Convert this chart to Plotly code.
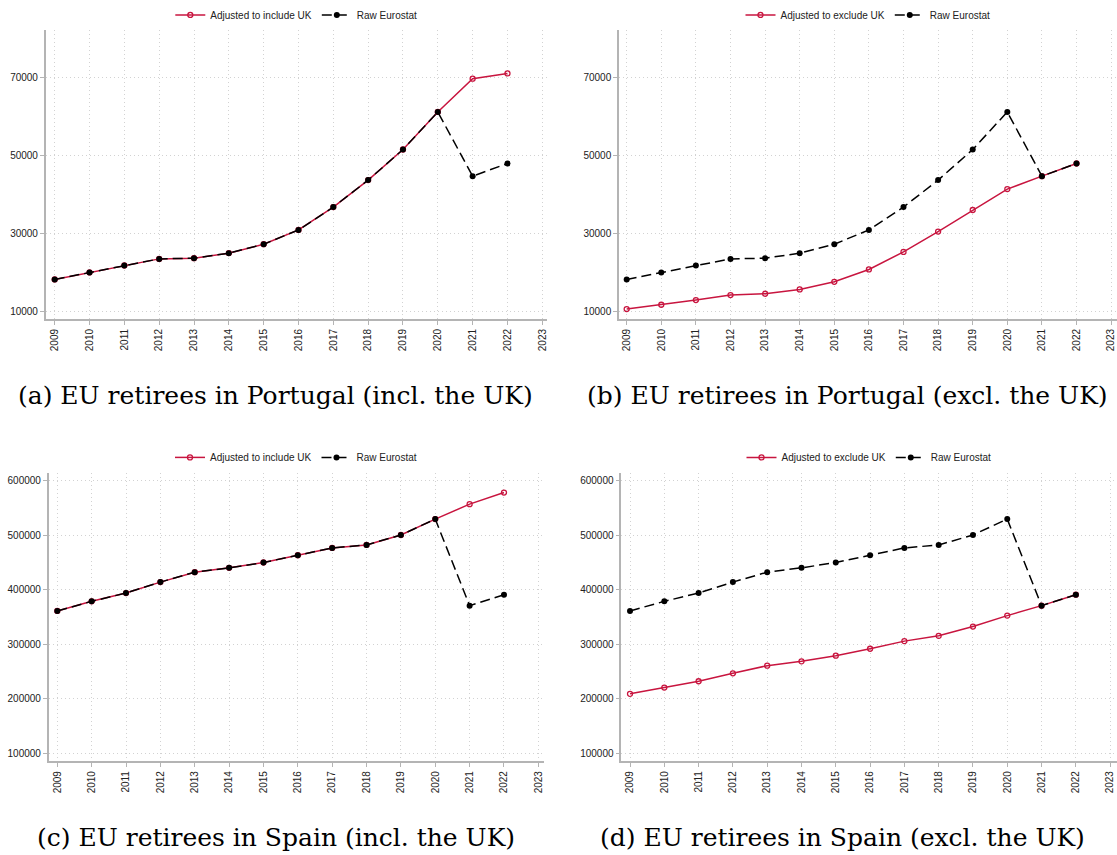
"""Jubilados UE en Portugal y España: ajuste por Reino Unido vs Eurostat bruto."""

from __future__ import annotations

import plotly.graph_objects as go

YEARS = list(range(2009, 2023))
YEAR_TICKS = list(range(2009, 2024))

# Portugal
PT_RAW = [18150, 19940, 21720, 23410, 23580, 24870, 27170, 30820, 36690, 43590, 51430, 61060, 44610, 47850]
PT_ADJ_INCL = [18150, 19940, 21720, 23410, 23580, 24870, 27170, 30820, 36690, 43590, 51430, 61060, 69570, 70920]
PT_ADJ_EXCL = [10560, 11660, 12860, 14140, 14480, 15590, 17540, 20700, 25200, 30410, 35930, 41290, 44610, 47850]
PT_TICKS = [10000, 30000, 50000, 70000]

# España
ES_RAW = [360800, 378450, 393670, 413750, 432000, 439930, 449670, 463060, 476450, 481920, 500180, 529400, 370540, 390630]
ES_ADJ_INCL = [360800, 378450, 393670, 413750, 432000, 439930, 449670, 463060, 476450, 481920, 500180, 529400, 556800, 578100]
ES_ADJ_EXCL = [208640, 220200, 231770, 246380, 260380, 268290, 278640, 291420, 305420, 315150, 332200, 352280, 370540, 390630]
ES_TICKS = [100000, 200000, 300000, 400000, 500000, 600000]

CAPTIONS = [
    "(a) EU retirees in Portugal (incl. the UK)",
    "(b) EU retirees in Portugal (excl. the UK)",
    "(c) EU retirees in Spain (incl. the UK)",
    "(d) EU retirees in Spain (excl. the UK)",
]

W, H = 1117, 855
RED = "#c8153f"
AXIS_GREY = "#b4b4b4"
GRID_GREY = "#d2d2d2"
TXT = "#222222"
SANS = "Liberation Sans, Arial, sans-serif"
SERIF = "DejaVu Serif, serif"


def _px_x(a: float, b: float) -> list[float]:
    return [a / W, b / W]


def _px_y(top: float, bottom: float) -> list[float]:
    return [1 - bottom / H, 1 - top / H]


# dominios en px, rangos, ticks y series de cada panel
PANELS = [
    dict(xd=(45.7, 547), yd=(26.7, 317.3), xr=(2008.742, 2023.135), yr=(7957, 82154),
         ticks=PT_TICKS, adj=PT_ADJ_INCL, raw=PT_RAW, label="Adjusted to include UK",
         leg=(296.3, 12), cap=(275.7, 394)),
    dict(xd=(619, 1117), yd=(26.7, 317.3), xr=(2008.778, 2023.17), yr=(7957, 82154),
         ticks=PT_TICKS, adj=PT_ADJ_EXCL, raw=PT_RAW, label="Adjusted to exclude UK",
         leg=(868, 12), cap=(847.3, 394)),
    dict(xd=(48.7, 543.5), yd=(471.7, 761), xr=(2008.75, 2023.15), yr=(84800, 613900),
         ticks=ES_TICKS, adj=ES_ADJ_INCL, raw=ES_RAW, label="Adjusted to include UK",
         leg=(296, 456), cap=(275.7, 837)),
    dict(xd=(621.3, 1117), yd=(471.7, 761), xr=(2008.746, 2023.2), yr=(84800, 613900),
         ticks=ES_TICKS, adj=ES_ADJ_EXCL, raw=ES_RAW, label="Adjusted to exclude UK",
         leg=(869, 456), cap=(842, 837)),
]


def build_figure() -> go.Figure:
    fig = go.Figure()
    layout: dict = {}
    annotations = []

    for i, p in enumerate(PANELS, start=1):
        sfx = "" if i == 1 else str(i)
        leg = "legend" if i == 1 else f"legend{i}"

        fig.add_trace(
            go.Scatter(
                x=YEARS, y=p["adj"], mode="lines+markers", name=p["label"],
                line=dict(color=RED, width=1.5),
                marker=dict(symbol="circle-open", size=5, color=RED, line=dict(width=1.3)),
                xaxis=f"x{sfx}", yaxis=f"y{sfx}", legend=leg,
            )
        )
        fig.add_trace(
            go.Scatter(
                x=YEARS, y=p["raw"], mode="lines+markers", name="Raw Eurostat",
                line=dict(color="black", width=1.5, dash="10px,5px"),
                marker=dict(symbol="circle", size=6, color="black"),
                xaxis=f"x{sfx}", yaxis=f"y{sfx}", legend=leg,
            )
        )

        axis_common = dict(
            ticks="outside", ticklen=4, tickcolor=AXIS_GREY,
            showline=True, linecolor=AXIS_GREY, linewidth=1.5,
            showgrid=True, gridcolor=GRID_GREY, griddash="1px,3px", gridwidth=1,
            zeroline=False, tickfont=dict(size=10, color=TXT, family=SANS),
        )
        layout[f"xaxis{sfx}"] = dict(
            domain=_px_x(*p["xd"]), anchor=f"y{sfx}", range=list(p["xr"]),
            tickvals=YEAR_TICKS, tickangle=-90, **axis_common,
        )
        layout[f"yaxis{sfx}"] = dict(
            domain=_px_y(*p["yd"]), anchor=f"x{sfx}", range=list(p["yr"]),
            tickvals=p["ticks"], tickformat="d", **axis_common,
        )
        layout[leg] = dict(
            orientation="h", x=p["leg"][0] / W, y=1 - p["leg"][1] / H,
            xanchor="center", yanchor="middle",
            font=dict(size=10, color=TXT, family=SANS), bgcolor="rgba(0,0,0,0)",
        )
        annotations.append(
            dict(
                text=CAPTIONS[i - 1], xref="paper", yref="paper",
                x=p["cap"][0] / W, y=1 - p["cap"][1] / H,
                xanchor="center", yanchor="middle", showarrow=False,
                font=dict(size=25, color="black", family=SERIF),
            )
        )

    fig.update_layout(
        width=W, height=H,
        margin=dict(l=0, r=0, t=0, b=0),
        paper_bgcolor="white", plot_bgcolor="white",
        showlegend=True, annotations=annotations,
        **layout,
    )
    return fig


if __name__ == "__main__":
    fig = build_figure()
    # sin el margen por defecto del body la figura ocupa toda la ventana
    fig.write_html(
        "out.html",
        config={"displayModeBar": False},
        post_script="document.body.style.margin='0';",
    )
